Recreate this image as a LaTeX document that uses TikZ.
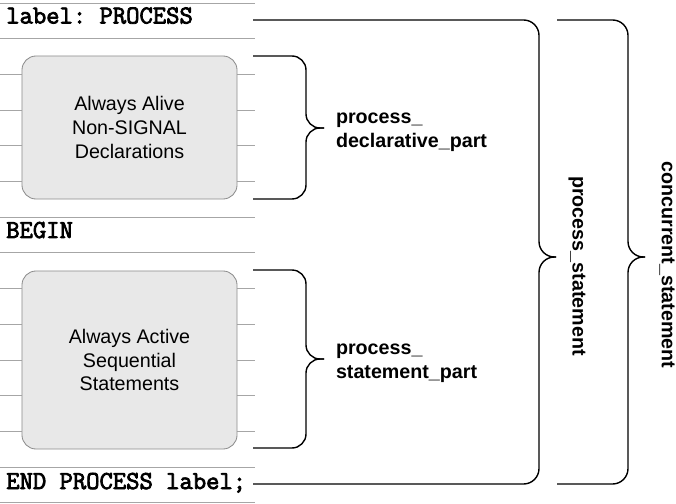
\documentclass[tikz,border=0pt]{standalone}
\usepackage{fontspec}
\setmainfont{Liberation Sans}
\setsansfont{Liberation Sans}
\setmonofont[AutoFakeBold=3]{Latin Modern Mono}
\usepackage{tikz}
\usetikzlibrary{positioning}
\tikzset{
  rule/.style={draw=gray!70, line width=0.7pt}
}
\tikzset{
  blockbox/.style={draw=gray!90, fill=gray!18, line width=0.6pt, rounded corners=10pt,
    minimum width=5.375cm, align=center, font=\fontsize{14}{17}\selectfont}
}
\tikzset{
  codeline/.style={anchor=base west, inner sep=0pt, font=\fontsize{18.4}{20}\selectfont\ttfamily\bfseries}
}
\tikzset{
  brace/.style={draw=black, line width=1pt, rounded corners=10pt},
  partlabel/.style={align=left, font=\fontsize{14}{17.5}\selectfont\bfseries},
  sidelabel/.style={rotate=-90, font=\fontsize{14}{17}\selectfont\bfseries}
}

\begin{document}
\begin{tikzpicture}[x=0.025cm, y=-0.025cm]
      \useasboundingbox (0,0) rectangle (676,504);
      % ruled lines
      \foreach \r in {0,1,6,7,13,14}
        \draw[rule] (0,3+35.7*\r) -- (255,3+35.7*\r);
      \foreach \r in {2,3,4,5,8,9,10,11,12} {
        \draw[rule] (0,3+35.7*\r) -- (22,3+35.7*\r);
        \draw[rule] (237,3+35.7*\r) -- (255,3+35.7*\r);
      }
      \node[blockbox, minimum height=3.575cm] (decl) at (129.5,127.5) {Always Alive\\Non-SIGNAL\\Declarations};
      \node[blockbox, minimum height=4.45cm] (stmt) at (129.5,360) {Always Active\\Sequential\\Statements};
      \node[codeline] (head) at (6,23.5) {label: PROCESS};
      \node[codeline] (begin) at (6,238) {BEGIN};
      \node[codeline] (tail) at (6,489) {END PROCESS label;};
      % small braces
      \coordinate (declTop) at (253,56);
      \coordinate (declBot) at (253,199);
      \coordinate (declTip) at (324,128);
      \draw[brace] (declTop) -| (306,128) -- (declTip);
      \draw[brace] (declBot) -| (306,128) -- (declTip);
      \node[partlabel, right=5pt of declTip, yshift=-3pt] (declLbl) {process\_\\declarative\_part};
      \coordinate (stmtTop) at (253,270);
      \coordinate (stmtBot) at (253,448);
      \coordinate (stmtTip) at (324,359);
      \draw[brace] (stmtTop) -| (306,359) -- (stmtTip);
      \draw[brace] (stmtBot) -| (306,359) -- (stmtTip);
      \node[partlabel, right=5pt of stmtTip, yshift=-3pt] (stmtLbl) {process\_\\statement\_part};
      % big braces
      \coordinate (procTop) at (253,20);
      \coordinate (procBot) at (253,484);
      \coordinate (procTip) at (556,257);
      \draw[brace, rounded corners=11pt] (procTop) -| (539,257) -- (procTip);
      \draw[brace, rounded corners=11pt] (procBot) -| (539,257) -- (procTip);
      \node[sidelabel] (procLbl) at (577,266) {process\_statement};
      \coordinate (concTop) at (557,20);
      \coordinate (concBot) at (557,484);
      \coordinate (concTip) at (645,257);
      \draw[brace, rounded corners=11pt] (concTop) -| (628,257) -- (concTip);
      \draw[brace, rounded corners=11pt] (concBot) -| (628,257) -- (concTip);
      \node[sidelabel] (concLbl) at (667,265) {concurrent\_statement};
    \end{tikzpicture}
\end{document}
